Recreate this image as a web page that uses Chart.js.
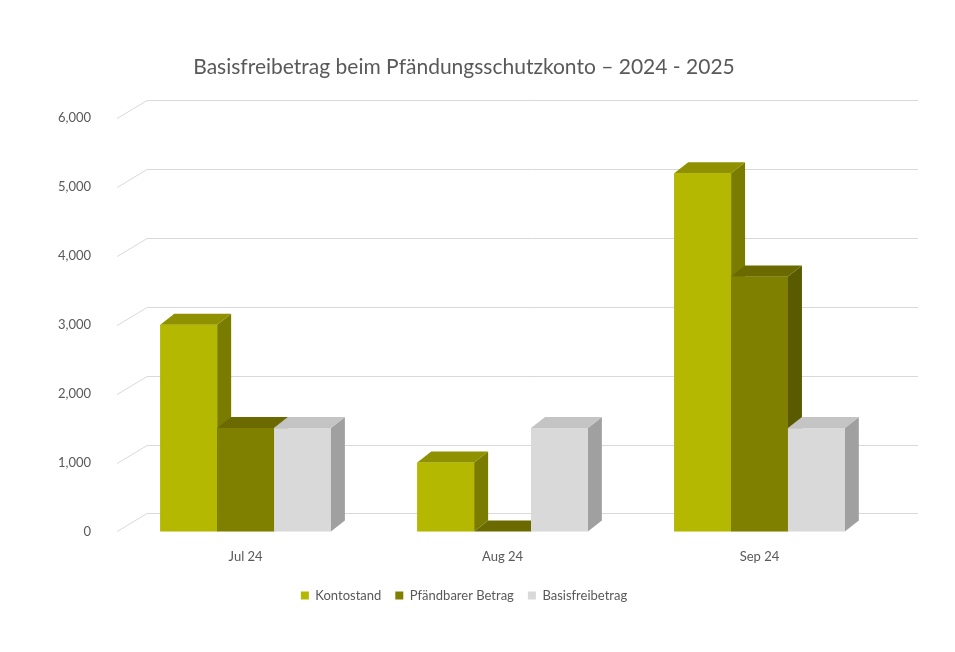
<!DOCTYPE html>
<html><head><meta charset="utf-8">
<script src="https://cdn.jsdelivr.net/npm/chart.js@4/dist/chart.umd.min.js"></script>
<style>html,body{margin:0;background:#fff}#w{width:955px;height:652px}</style>
</head><body><div id="w"><canvas id="c"></canvas></div>
<script>
const categories = ['Jul 24','Aug 24','Sep 24'];
const kontostand = [3000, 1000, 5200];
const pfaendbar = [1500, 0, 3700];
const basisfreibetrag = [1500, 1500, 1500];
const yTicks = [0,1000,2000,3000,4000,5000,6000];

const faces = [
  {front:'#b5b800', top:'#8f9100', side:'#7a7c00'},
  {front:'#808000', top:'#6a6a00', side:'#5a5a00'},
  {front:'#d9d9d9', top:'#c4c4c4', side:'#a0a0a0'}
];
const BD = {dx:14, dy:-11};
const WD = {dx:30, dy:-18};

const threeD = {
  id:'threeD',
  beforeDatasetsDraw(chart){
    const {ctx, chartArea:a, scales:{y}} = chart;
    ctx.save();
    ctx.strokeStyle='#d9d9d9'; ctx.lineWidth=1;
    yTicks.forEach(v=>{
      const py = Math.round(y.getPixelForValue(v))+0.5;
      ctx.beginPath();
      ctx.moveTo(a.left, py);
      ctx.lineTo(a.left+WD.dx, py+WD.dy);
      ctx.lineTo(a.right+WD.dx, py+WD.dy);
      ctx.stroke();
    });
    ctx.restore();
  },
  afterDatasetsDraw(chart){
    const ctx = chart.ctx;
    ctx.save();
    const n = chart.data.labels.length;
    for(let i=0;i<n;i++){
      chart.data.datasets.forEach((ds,di)=>{
        const el = chart.getDatasetMeta(di).data[i];
        const f = faces[di];
        const l = el.x - el.width/2, r = el.x + el.width/2, t = el.y, b = el.base;
        ctx.fillStyle=f.side;
        ctx.beginPath();
        ctx.moveTo(r,t);ctx.lineTo(r+BD.dx,t+BD.dy);ctx.lineTo(r+BD.dx,b+BD.dy);ctx.lineTo(r,b);ctx.closePath();ctx.fill();
        ctx.fillStyle=f.top;
        ctx.beginPath();
        ctx.moveTo(l,t);ctx.lineTo(l+BD.dx,t+BD.dy);ctx.lineTo(r+BD.dx,t+BD.dy);ctx.lineTo(r,t);ctx.closePath();ctx.fill();
        ctx.fillStyle=f.front;
        ctx.fillRect(l,t,r-l,b-t);
      });
    }
    ctx.restore();
  }
};

new Chart(document.getElementById('c'),{
  type:'bar',
  data:{labels:categories,datasets:[
    {label:'Kontostand',data:kontostand,backgroundColor:faces[0].front},
    {label:'Pfändbarer Betrag',data:pfaendbar,backgroundColor:faces[1].front},
    {label:'Basisfreibetrag',data:basisfreibetrag,backgroundColor:faces[2].front}
  ]},
  options:{
    responsive:true,maintainAspectRatio:false,animation:false,
    categoryPercentage:0.664,barPercentage:1,
    layout:{padding:{left:40,right:67,top:10,bottom:40}},
    plugins:{
      title:{display:true,text:'Basisfreibetrag beim Pfändungsschutzkonto – 2024 - 2025',color:'#595959',font:{family:'Lato',size:21,weight:'normal'},padding:{top:45,bottom:38}},
      legend:{position:'bottom',labels:{color:'#595959',font:{family:'Lato',size:13},boxWidth:8,boxHeight:8,padding:14}},
      tooltip:{enabled:false}
    },
    scales:{
      x:{grid:{display:false},border:{display:false},ticks:{color:'#595959',font:{family:'Lato',size:13},padding:10}},
      y:{min:0,max:6000,ticks:{stepSize:1000,color:'#595959',font:{family:'Lato',size:13},padding:18},grid:{display:false},border:{display:false}}
    }
  },
  plugins:[threeD]
});
</script></body></html>
